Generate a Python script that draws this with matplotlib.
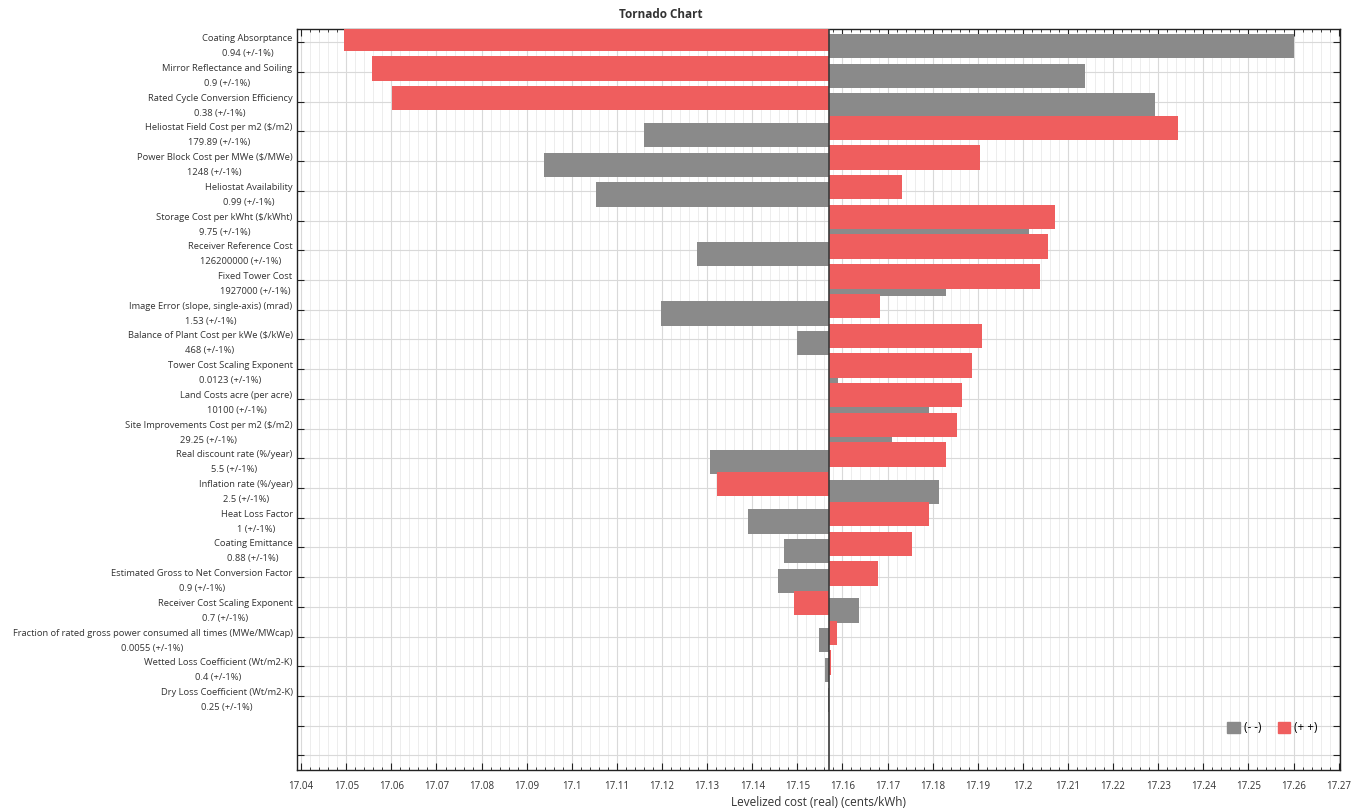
"""Tornado chart of levelized cost sensitivity to +/-1% input changes."""

import matplotlib
matplotlib.use("Agg")
import matplotlib.pyplot as plt
from matplotlib.patches import Patch
from matplotlib.ticker import MultipleLocator

plt.rcParams["font.family"] = ["Open Sans", "DejaVu Sans"]

base_cost = 17.157

parameters = [
    "Coating Absorptance\n0.94 (+/-1%)",
    "Mirror Reflectance and Soiling\n0.9 (+/-1%)",
    "Rated Cycle Conversion Efficiency\n0.38 (+/-1%)",
    "Heliostat Field Cost per m2 ($/m2)\n179.89 (+/-1%)",
    "Power Block Cost per MWe ($/MWe)\n1248 (+/-1%)",
    "Heliostat Availability\n0.99 (+/-1%)",
    "Storage Cost per kWht ($/kWht)\n9.75 (+/-1%)",
    "Receiver Reference Cost\n126200000 (+/-1%)",
    "Fixed Tower Cost\n1927000 (+/-1%)",
    "Image Error (slope, single-axis) (mrad)\n1.53 (+/-1%)",
    "Balance of Plant Cost per kWe ($/kWe)\n468 (+/-1%)",
    "Tower Cost Scaling Exponent\n0.0123 (+/-1%)",
    "Land Costs acre (per acre)\n10100 (+/-1%)",
    "Site Improvements Cost per m2 ($/m2)\n29.25 (+/-1%)",
    "Real discount rate (%/year)\n5.5 (+/-1%)",
    "Inflation rate (%/year)\n2.5 (+/-1%)",
    "Heat Loss Factor\n1 (+/-1%)",
    "Coating Emittance\n0.88 (+/-1%)",
    "Estimated Gross to Net Conversion Factor\n0.9 (+/-1%)",
    "Receiver Cost Scaling Exponent\n0.7 (+/-1%)",
    "Fraction of rated gross power consumed all times (MWe/MWcap)\n0.0055 (+/-1%)",
    "Wetted Loss Coefficient (Wt/m2-K)\n0.4 (+/-1%)",
    "Dry Loss Coefficient (Wt/m2-K)\n0.25 (+/-1%)",
    "",
    "",
]

# levelized cost with the input lowered (--) and raised (++) by 1%
cost_minus = [
    17.2600, 17.2138, 17.2293, 17.1160, 17.0939, 17.1053, 17.2014, 17.1278,
    17.1829, 17.1197, 17.1500, 17.1591, 17.1792, 17.1709, 17.1306, 17.1814,
    17.1390, 17.1471, 17.1457, 17.1637, 17.1547, 17.1562, 17.1569,
]
cost_plus = [
    17.0494, 17.0556, 17.0602, 17.2344, 17.1905, 17.1731, 17.2071, 17.2055,
    17.2038, 17.1683, 17.1910, 17.1888, 17.1866, 17.1853, 17.1829, 17.1321,
    17.1792, 17.1755, 17.1678, 17.1493, 17.1587, 17.1575, 17.1571,
]

gray = "#8a8a8a"
red = "#ef5e5e"

fig = plt.figure(figsize=(13.59, 8.09), dpi=100)
ax = fig.add_axes([0.2183, 0.0482, 0.7677, 0.916])

rows = list(range(len(cost_minus)))
bar_h = 0.82
ax.barh([r + 0.125 for r in rows], [v - base_cost for v in cost_minus],
        left=base_cost, height=bar_h, color=gray, zorder=2)
ax.barh([r - 0.125 for r in rows], [v - base_cost for v in cost_plus],
        left=base_cost, height=bar_h, color=red, zorder=3)
ax.axvline(base_cost, color="#3a3a3a", lw=1.2, zorder=4)

ax.set_xlim(17.039, 17.2703)
ax.set_ylim(24.49, -0.45)

ax.xaxis.set_major_locator(MultipleLocator(0.01))
ax.xaxis.set_minor_locator(MultipleLocator(0.002))
ax.xaxis.set_major_formatter(plt.FuncFormatter(lambda v, _: f"{v:.2f}".rstrip("0")))
ax.set_yticks(range(len(parameters)))
ax.set_yticklabels(parameters, multialignment="center", linespacing=1.85)

ax.tick_params(axis="x", which="both", direction="in", top=True, bottom=True,
               labelsize=7, pad=8, color="#222222", labelcolor="#333333")
ax.tick_params(axis="x", which="major", length=5)
ax.tick_params(axis="x", which="minor", length=2.5)
ax.tick_params(axis="y", direction="in", left=True, right=True, length=5,
               labelsize=6.75, pad=3, color="#222222", labelcolor="#333333")

ax.set_axisbelow(True)
ax.grid(which="major", color="#d9d9d9", lw=0.8)
ax.grid(which="minor", axis="x", color="#ededed", lw=0.7)
for spine in ax.spines.values():
    spine.set_color("#222222")
    spine.set_linewidth(1.0)

ax.set_xlabel("Levelized cost (real) (cents/kWh)", fontsize=8.5, color="#333333", labelpad=3)
fig.text(0.486, 0.982, "Tornado Chart", ha="center", va="center",
         fontsize=8.5, fontweight="bold", color="#333333")

handles = [Patch(color=gray, label="(- -)"), Patch(color=red, label="(+ +)")]
ax.legend(handles=handles, loc="center right", bbox_to_anchor=(0.989, 0.057),
          ncol=2, frameon=False, fontsize=8.5, handlelength=1.05, handleheight=1.05,
          handletextpad=0.35, columnspacing=1.4)

fig.savefig("out.png", dpi=100)
